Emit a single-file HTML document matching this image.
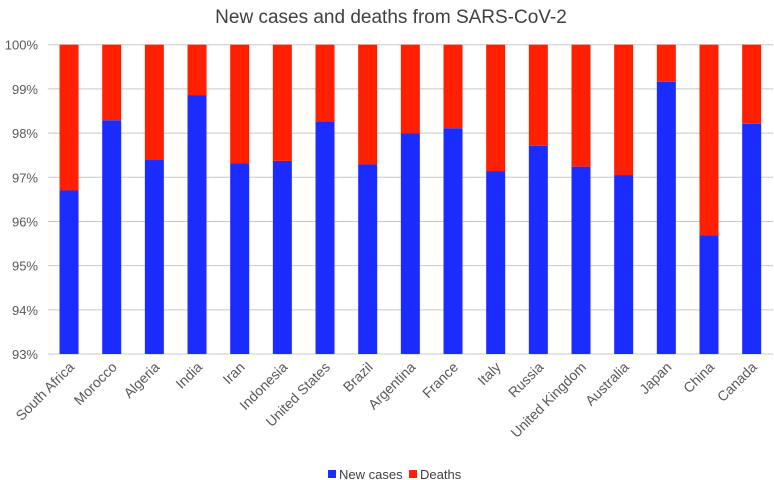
<!DOCTYPE html>
<html><head><meta charset="utf-8"><style>
body{margin:0;background:#fff;}
svg{display:block;font-family:"Liberation Sans",Calibri,sans-serif;}
</style></head><body>
<svg id="c" width="774" height="480">
<text x="391" y="23" text-anchor="middle" font-size="19" fill="#404040">New cases and deaths from SARS-CoV-2</text>
<g id="grid"></g><g id="bars"></g><g id="xl"></g>
<g>
<rect x="328" y="470" width="8" height="8" fill="#1a2cff"/>
<text x="339" y="479" font-size="13" fill="#404040">New cases</text>
<rect x="409" y="470" width="8" height="8" fill="#ff2000"/>
<text x="420" y="479" font-size="13" fill="#404040">Deaths</text>
</g>
</svg>
<script>
const categories=["South Africa","Morocco","Algeria","India","Iran","Indonesia","United States","Brazil","Argentina","France","Italy","Russia","United Kingdom","Australia","Japan","China","Canada"];
const newCases=[96.70,98.29,97.39,98.86,97.32,97.37,98.26,97.29,97.99,98.11,97.14,97.71,97.24,97.05,99.16,95.69,98.21];
const deaths=newCases.map(v=>100-v);
const yTicks=[93,94,95,96,97,98,99,100];
const NS="http://www.w3.org/2000/svg";
const L=47.7,R=773,T=44.7,B=354,ymin=93,ymax=100;
const step=(R-L)/categories.length,bw=19;
const y=v=>B-(v-ymin)/(ymax-ymin)*(B-T);
const xc=i=>L+step*(i+0.5);
function mk(t,a,p){const e=document.createElementNS(NS,t);for(const k in a)e.setAttribute(k,a[k]);p.appendChild(e);return e;}
const g=document.getElementById('grid'),b=document.getElementById('bars'),xl=document.getElementById('xl');
yTicks.forEach(t=>{
 const ln=mk('line',{x1:L,x2:R,y1:y(t),y2:y(t),stroke:'#c8c8c8','stroke-width':1},g);
 
 
 const tx=mk('text',{x:38,y:y(t)+5,'text-anchor':'end','font-size':13,fill:'#595959'},g);
 tx.textContent=t+'%';
 
 
});
categories.forEach((c,i)=>{
 const x=xc(i)-bw/2;
 const r1=mk('rect',{x:x,y:y(newCases[i]),width:bw,height:B-y(newCases[i]),fill:'#1a2cff'},b);
 
 
 const top=newCases[i]+deaths[i];
 const r2=mk('rect',{x:x,y:y(top),width:bw,height:y(newCases[i])-y(top),fill:'#ff2000'},b);
 
 
 const tx=mk('text',{x:0,y:0,'text-anchor':'end','font-size':14,fill:'#595959',transform:`translate(${xc(i)+6},${368}) rotate(-45)`},xl);
 tx.textContent=c;
 
 
});
</script>
</body></html>
